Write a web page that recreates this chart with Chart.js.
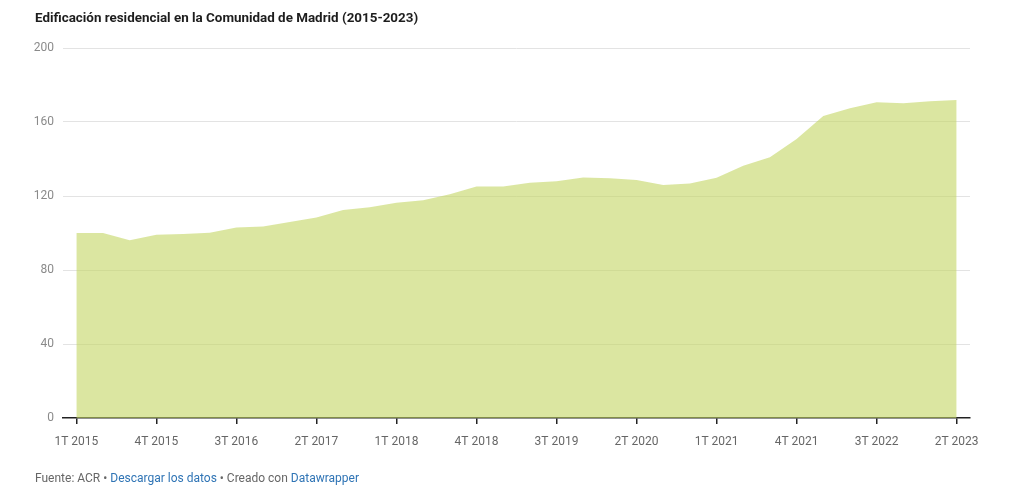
<!DOCTYPE html>
<html>
<head>
<meta charset="utf-8">
<script src="https://cdn.jsdelivr.net/npm/chart.js@4"></script>
<style>
  html, body { margin: 0; padding: 0; background: #fff; }
  body { width: 1024px; height: 501px; position: relative; overflow: hidden; font-family: Roboto, "Noto Sans", sans-serif; }
  .title { position: absolute; left: 35px; top: 10px; font-size: 13.4px; font-weight: 700; color: #1d1d1d; }
  .chart-box { position: absolute; left: 0; top: 0; width: 1024px; height: 501px; }
  .footer { position: absolute; left: 35px; top: 471px; font-size: 12px; color: #666; }
  .footer a { color: #2f74b5; text-decoration: none; }
</style>
</head>
<body>
<div class="chart-box"><canvas id="areaChart"></canvas></div>
<div class="title">Edificación residencial en la Comunidad de Madrid (2015-2023)</div>
<div class="footer">Fuente: ACR • <a>Descargar los datos</a> • Creado con <a>Datawrapper</a></div>

<script>
// quarters 1T 2015 .. 2T 2023
const quarters = [
    '1T 2015', '2T 2015', '3T 2015', '4T 2015',
    '1T 2016', '2T 2016', '3T 2016', '4T 2016',
    '1T 2017', '2T 2017', '3T 2017', '4T 2017',
    '1T 2018', '2T 2018', '3T 2018', '4T 2018',
    '1T 2019', '2T 2019', '3T 2019', '4T 2019',
    '1T 2020', '2T 2020', '3T 2020', '4T 2020',
    '1T 2021', '2T 2021', '3T 2021', '4T 2021',
    '1T 2022', '2T 2022', '3T 2022', '4T 2022',
    '1T 2023', '2T 2023',
];

// values
const edificacion = [
    100, 100, 96.1, 99.0,
    99.5, 100.1, 103.0, 103.5,
    105.9, 108.4, 112.4, 113.9,
    116.4, 117.7, 120.9, 125.1,
    125.2, 127.1, 128.0, 130.0,
    129.6, 128.7, 126.0, 126.7,
    129.8, 136.3, 141.0, 150.8,
    163.3, 167.4, 170.7, 170.1,
    171.2, 171.9,
];

const yTicks = [0, 40, 80, 120, 160, 200];
const labelEvery = 3;

const ctx = document.getElementById('areaChart').getContext('2d');
new Chart(ctx, {
    type: 'line',
    data: {
        labels: quarters,
        datasets: [{
            label: 'Edificación residencial',
            data: edificacion,
            fill: 'origin',
            backgroundColor: 'rgba(195, 213, 98, 0.6)',
            borderWidth: 0,
            borderColor: 'rgba(0, 0, 0, 0)',
            pointRadius: 0,
            tension: 0,
        }],
    },
    options: {
        responsive: true,
        maintainAspectRatio: false,
        animation: false,
        layout: {
            padding: { left: 30, right: 54, top: 48, bottom: 39 },
        },
        plugins: {
            legend: { display: false },
            tooltip: { enabled: false },
        },
        scales: {
            x: {
                type: 'category',
                offset: true,
                border: { display: true, color: '#222', width: 1.5 },
                grid: {
                    drawOnChartArea: false,
                    drawTicks: true,
                    tickLength: 6,
                    offset: false,
                    color: (c) => (c.index % labelEvery === 0 ? '#222' : 'rgba(0,0,0,0)'),
                    lineWidth: 1.5,
                },
                ticks: {
                    autoSkip: false,
                    maxRotation: 0,
                    padding: 11,
                    color: '#666',
                    font: { family: 'Roboto', size: 12 },
                    callback: (value, index) => (index % labelEvery === 0 ? quarters[index] : ''),
                },
                afterFit: (scale) => { scale.height = 44; },
            },
            y: {
                min: 0,
                max: 200,
                border: { display: false },
                grid: {
                    color: (c) => (c.tick && c.tick.value === 0 ? 'rgba(0,0,0,0)' : '#e3e3e3'),
                    lineWidth: 1,
                    drawTicks: false,
                },
                afterBuildTicks: (scale) => { scale.ticks = yTicks.map((v) => ({ value: v })); },
                ticks: {
                    padding: 9,
                    color: '#8a8a8a',
                    font: { family: 'Roboto', size: 12 },
                },
                afterFit: (scale) => { scale.width = 33; },
            },
        },
    },
});
</script>
</body>
</html>
